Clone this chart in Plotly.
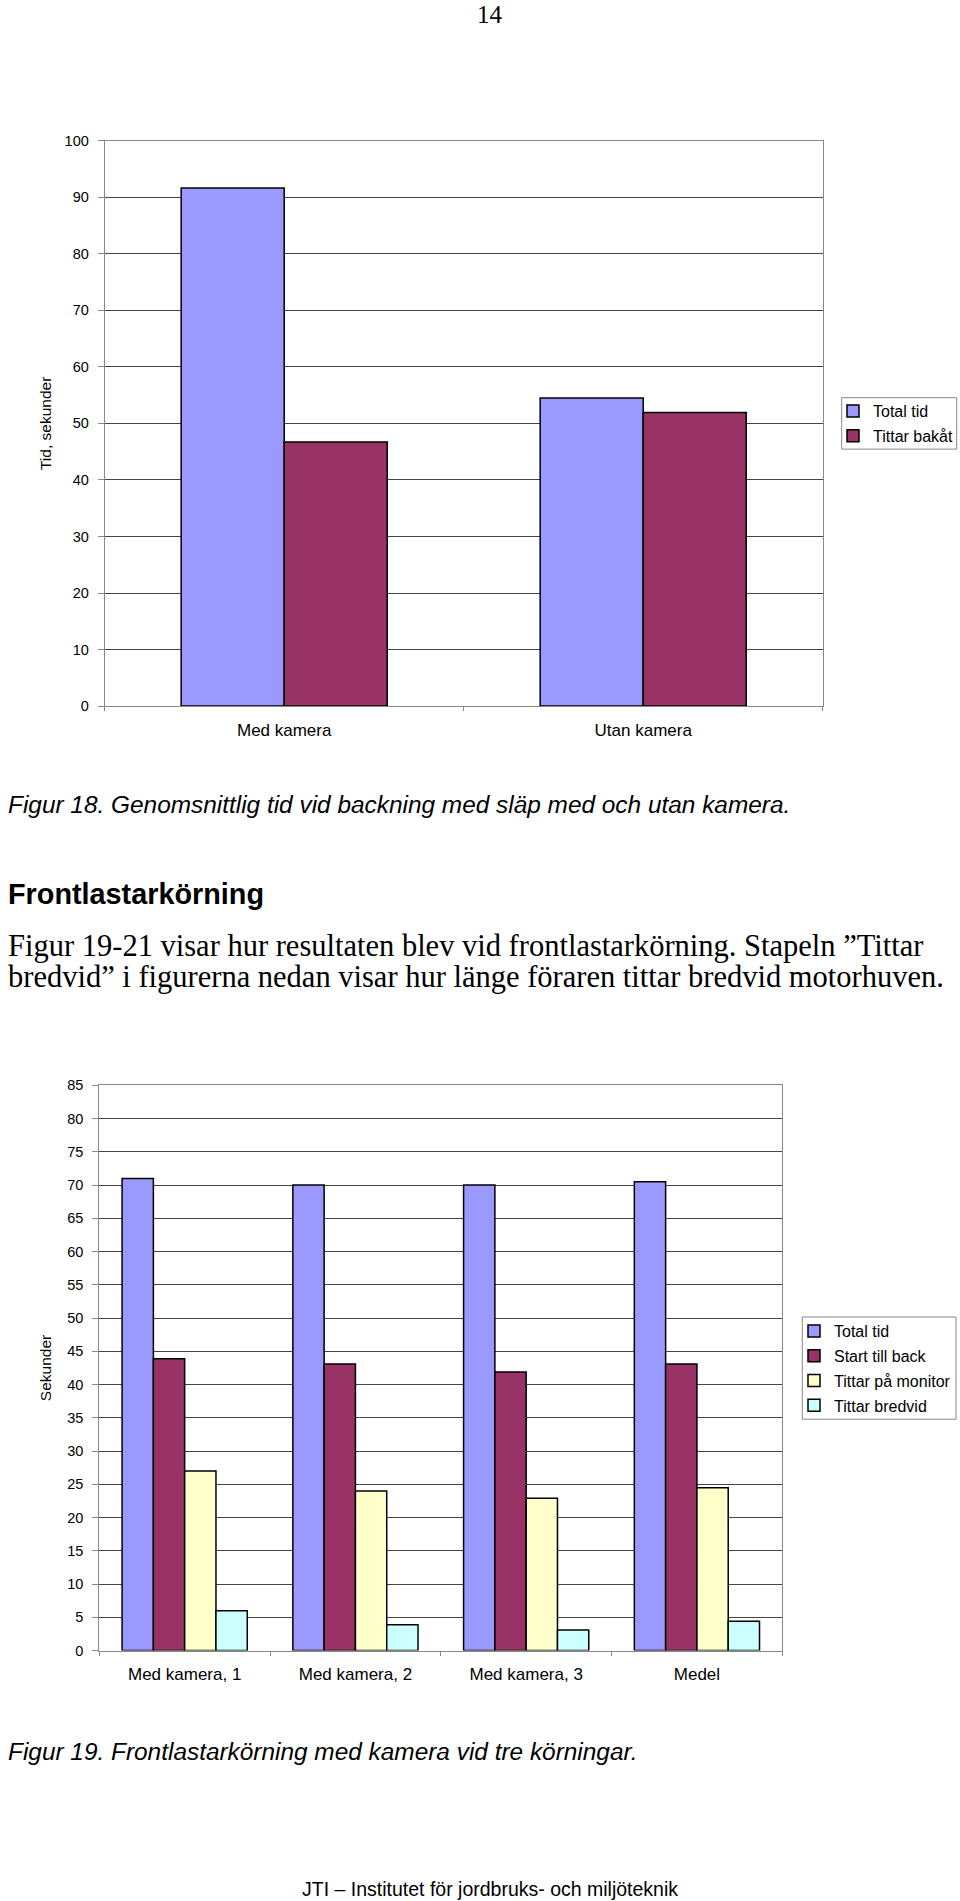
import plotly.graph_objects as go

W, H = 960, 1901

# ---------------- data ----------------
cats1 = ["Med kamera", "Utan kamera"]
total1 = [91.6, 54.5]
bakat1 = [46.7, 51.9]

cats2 = ["Med kamera, 1", "Med kamera, 2", "Med kamera, 3", "Medel"]
total2 = [71.0, 70.0, 70.0, 70.5]
start2 = [43.9, 43.1, 41.9, 43.1]
monitor2 = [27.0, 24.0, 22.9, 24.5]
bredvid2 = [6.0, 3.9, 3.1, 4.4]

series1_names = ["Total tid", "Tittar bakåt"]
series2_names = ["Total tid", "Start till back", "Tittar på monitor", "Tittar bredvid"]

# ---------------- styling ----------------
C_TOTAL = "#9999FF"
C_MAROON = "#993366"
C_YELLOW = "#FFFFCC"
C_CYAN = "#CCFFFF"
SANS = "Liberation Sans, Arial, sans-serif"
SERIF = "Liberation Serif, Times New Roman, serif"
GRID = "#454545"
AXIS = "#888888"


def px(x):
    return x / W


def py(y):
    return 1 - y / H


fig = go.Figure()

# chart 1 (Figur 18)
w1 = 0.287
for i, (name, vals, col) in enumerate(zip(series1_names, [total1, bakat1], [C_TOTAL, C_MAROON])):
    fig.add_trace(go.Bar(
        x=cats1, y=vals, name=name, xaxis="x", yaxis="y", legend="legend",
        legendgroup="a%d" % i,
        width=w1, offset=-w1 + i * w1,
        marker=dict(color=col, line=dict(color="black", width=1.5)),
    ))

# chart 2 (Figur 19)
w2 = 0.1833
for i, (name, vals, col) in enumerate(zip(series2_names, [total2, start2, monitor2, bredvid2],
                                           [C_TOTAL, C_MAROON, C_YELLOW, C_CYAN])):
    fig.add_trace(go.Bar(
        x=cats2, y=vals, name=name, xaxis="x2", yaxis="y2", legend="legend2",
        legendgroup="b%d" % i,
        width=w2, offset=-2 * w2 + i * w2,
        marker=dict(color=col, line=dict(color="black", width=1.5)),
    ))

xcommon = dict(type="category", showline=True, linecolor=AXIS, linewidth=1, mirror=True,
               ticks="outside", tickson="boundaries", ticklen=4, tickcolor=AXIS,
               showgrid=False, tickfont=dict(family=SANS, size=17, color="black"),
               ticklabelstandoff=8, fixedrange=True)
ycommon = dict(showline=True, linecolor=AXIS, linewidth=1, mirror=True,
               ticks="outside", ticklen=6, tickcolor=AXIS,
               showgrid=True, gridcolor=GRID, gridwidth=1, zeroline=False,
               tickfont=dict(family=SANS, size=14.5, color="black"),
               ticklabelstandoff=6, fixedrange=True)

legend_common = dict(xanchor="left", yanchor="top", bgcolor="rgba(0,0,0,0)", borderwidth=0,
                     font=dict(family=SANS, size=16, color="black"), itemwidth=30,
                     traceorder="grouped", tracegroupgap=1)

fig.update_layout(
    width=W, height=H,
    margin=dict(l=0, r=0, t=0, b=0, autoexpand=False),
    paper_bgcolor="white", plot_bgcolor="white",
    barmode="overlay",
    showlegend=True,
    xaxis=dict(xcommon, domain=[px(104.7), px(822.7)], anchor="y"),
    yaxis=dict(ycommon, domain=[py(706.1), py(140.6)], anchor="x", range=[0, 100], dtick=10,
               title=dict(text="Tid, sekunder", font=dict(family=SANS, size=15.5, color="black"), standoff=9)),
    xaxis2=dict(xcommon, domain=[px(99.3), px(782.3)], anchor="y2"),
    yaxis2=dict(ycommon, domain=[py(1650.6), py(1085.3)], anchor="x2", range=[0, 85], dtick=5,
                title=dict(text="Sekunder", font=dict(family=SANS, size=15.5, color="black"), standoff=11)),
    legend=dict(legend_common, x=px(833), y=py(394)),
    legend2=dict(legend_common, x=px(794), y=py(1314)),
)

# legend frames
fig.add_shape(type="rect", xref="paper", yref="paper",
              x0=px(841.7), x1=px(956.7), y0=py(449.1), y1=py(397.7),
              line=dict(color=AXIS, width=1), layer="above")
fig.add_shape(type="rect", xref="paper", yref="paper",
              x0=px(802.3), x1=px(956), y0=py(1419.2), y1=py(1317),
              line=dict(color=AXIS, width=1), layer="above")

annotations = [
    dict(text="14", x=px(489.5), y=1, xanchor="center", yanchor="top", borderpad=0,
         font=dict(family=SERIF, size=25, color="black")),
    dict(text="Figur 18. Genomsnittlig tid vid backning med släp med och utan kamera.",
         x=px(6), y=py(804), xanchor="left", yanchor="middle",
         font=dict(family=SANS, size=24.4, color="black", style="italic")),
    dict(text="Frontlastarkörning", x=px(6), y=py(893.5), xanchor="left", yanchor="middle",
         font=dict(family=SANS, size=28.8, color="black", weight="bold")),
    dict(text="Figur 19-21 visar hur resultaten blev vid frontlastarkörning. Stapeln ”Tittar",
         x=px(6), y=py(946), xanchor="left", yanchor="middle",
         font=dict(family=SERIF, size=30.5, color="black")),
    dict(text="bredvid” i figurerna nedan visar hur länge föraren tittar bredvid motorhuven.",
         x=px(6), y=py(977), xanchor="left", yanchor="middle",
         font=dict(family=SERIF, size=30.5, color="black")),
    dict(text="Figur 19. Frontlastarkörning med kamera vid tre körningar.",
         x=px(6), y=py(1751), xanchor="left", yanchor="middle",
         font=dict(family=SANS, size=24.4, color="black", style="italic")),
    dict(text="JTI – Institutet för jordbruks- och miljöteknik",
         x=px(489.5), y=py(1889), xanchor="center", yanchor="middle",
         font=dict(family=SANS, size=19.5, color="black")),
]
for a in annotations:
    a.update(xref="paper", yref="paper", showarrow=False)
fig.update_layout(annotations=annotations)

fig.write_html("out.html")
